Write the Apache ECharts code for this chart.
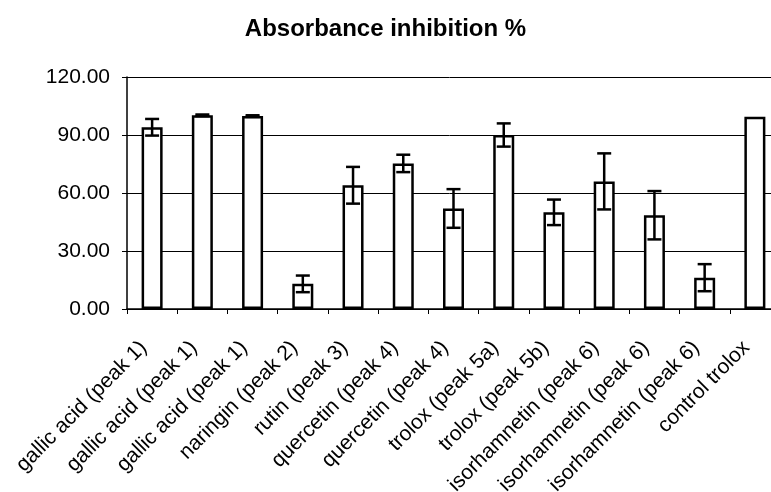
<!DOCTYPE html>
<html>
<head>
<meta charset="utf-8">
<script src="https://cdn.jsdelivr.net/npm/echarts@6/dist/echarts.min.js"></script>
<style>
  html, body { margin: 0; padding: 0; background: #fff; }
  #chart { width: 771px; height: 492px; }
</style>
</head>
<body>
<div id="chart"></div>
<script>
// categories on the x axis
const categories = [
  'gallic acid (peak 1)', 'gallic acid (peak 1)', 'gallic acid (peak 1)',
  'naringin (peak 2)', 'rutin (peak 3)', 'quercetin (peak 4)', 'quercetin (peak 4)',
  'trolox (peak 5a)', 'trolox (peak 5b)', 'isorhamnetin (peak 6)',
  'isorhamnetin (peak 6)', 'isorhamnetin (peak 6)', 'control trolox'
];
// mean inhibition %
const values = [94, 100.2, 99.8, 13, 64, 75.3, 52, 90, 50, 66, 48.5, 16.2, 99.5];
// +/- error
const errors = [4.3, 0.4, 0.4, 4.3, 9.5, 4.5, 10, 6, 6.6, 14.5, 12.5, 7, 0];
const yTicks = [0, 30, 60, 90, 120];

const chart = echarts.init(document.getElementById('chart'));

const errData = values.map((v, i) => [i, v - errors[i], v + errors[i]]);

const option = {
  backgroundColor: '#fff',
  animation: false,
  title: {
    text: 'Absorbance inhibition %',
    left: 'center',
    top: 12,
    textStyle: { fontFamily: 'Liberation Sans', fontWeight: 'bold', fontSize: 24, color: '#000' }
  },
  grid: { left: 127, top: 77, width: 653, height: 232, outerBoundsMode: 'none', containLabel: false },
  xAxis: {
    type: 'category',
    data: categories,
    axisLine: { lineStyle: { color: '#000', width: 1.5 } },
    axisTick: { show: true, length: 5, inside: false, lineStyle: { color: '#000', width: 1 } },
    axisLabel: {
      rotate: 45, margin: 27, interval: 0,
      padding: [0, 12, 0, 0],
      fontFamily: 'Liberation Sans', fontSize: 21, color: '#000'
    }
  },
  yAxis: {
    type: 'value',
    min: yTicks[0], max: yTicks[yTicks.length - 1], interval: 30,
    axisLine: { show: true, lineStyle: { color: '#000', width: 1.5 } },
    axisTick: { show: true, length: 5, lineStyle: { color: '#000' } },
    splitLine: { show: true, lineStyle: { color: '#000', width: 1 } },
    axisLabel: {
      margin: 17,
      formatter: v => v.toFixed(2),
      fontFamily: 'Liberation Sans', fontSize: 21, color: '#000'
    }
  },
  series: [
    {
      type: 'bar',
      data: values,
      barWidth: 21,
      itemStyle: { color: '#fff', borderColor: '#000', borderWidth: 2.5 },
      z: 2
    },
    {
      type: 'custom',
      data: errData,
      z: 3,
      renderItem: function (params, api) {
        if (api.value(2) - api.value(1) < 0.01) return null;
        const lo = api.coord([api.value(0), api.value(1)]);
        const hi = api.coord([api.value(0), api.value(2)]);
        const half = 7;
        const style = { stroke: '#000', lineWidth: 2.5 };
        return {
          type: 'group',
          children: [
            { type: 'line', shape: { x1: hi[0], y1: hi[1], x2: lo[0], y2: lo[1] }, style },
            { type: 'line', shape: { x1: hi[0] - half, y1: hi[1], x2: hi[0] + half, y2: hi[1] }, style },
            { type: 'line', shape: { x1: lo[0] - half, y1: lo[1], x2: lo[0] + half, y2: lo[1] }, style }
          ]
        };
      }
    }
  ]
};

chart.setOption(option);
window.addEventListener('resize', () => chart.resize());
</script>
</body>
</html>
